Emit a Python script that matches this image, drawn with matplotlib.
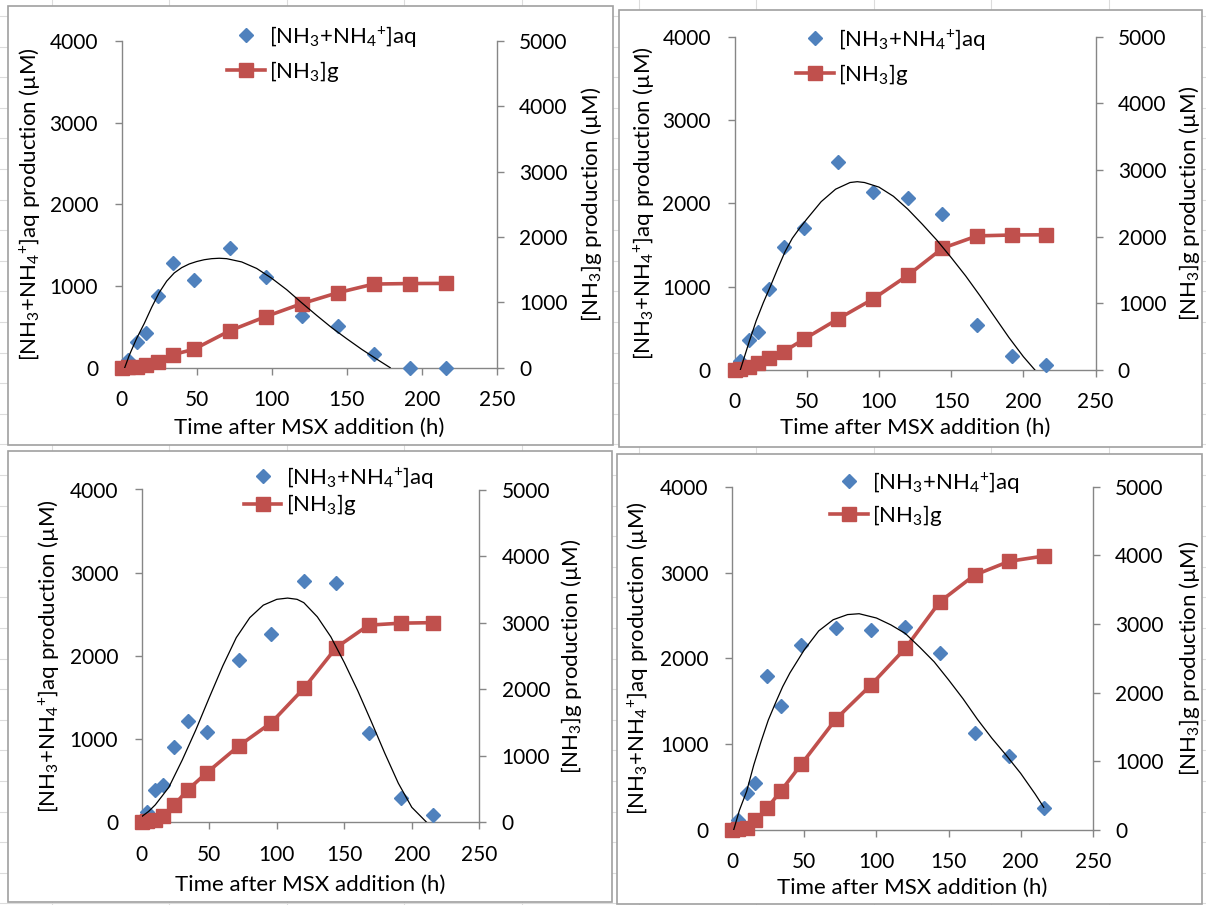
import matplotlib
matplotlib.use("Agg")
import matplotlib.pyplot as plt
from matplotlib.patches import Rectangle
from matplotlib.lines import Line2D

plt.rcParams['font.family'] = ['Lato', 'DejaVu Sans']
plt.rcParams['mathtext.fontset'] = 'custom'
plt.rcParams['mathtext.rm'] = 'Lato'
plt.rcParams['mathtext.it'] = 'Lato:italic'
plt.rcParams['mathtext.bf'] = 'Lato:bold'

# ---- sampling times (h) ----
t_aq = [4, 10, 16, 24, 34, 48, 72, 96, 120, 144, 168, 192, 216]
t_g = [0, 4, 10, 16, 24, 34, 48, 72, 96, 120, 144, 168, 192, 216]

# ---- run 1 ----
aq1 = [90, 310, 420, 875, 1280, 1075, 1465, 1105, 630, 515, 170, 0, 0]
g1 = [0, 5, 15, 45, 85, 200, 280, 565, 782, 980, 1147, 1280, 1288, 1290]
fit_t1 = [2, 5, 10, 15, 20, 25, 30, 35, 40, 45, 50, 55, 60, 65, 70, 80, 90,
          100, 110, 120, 130, 140, 150, 160, 170, 179]
fit1 = [0, 150, 360, 540, 740, 920, 1060, 1160, 1225, 1270, 1300, 1322, 1335,
        1340, 1335, 1295, 1215, 1095, 955, 795, 640, 490, 355, 225, 105, 0]

# ---- run 2 ----
aq2 = [105, 360, 452, 967, 1472, 1707, 2492, 2140, 2070, 1872, 538, 174, 66]
g2 = [0, 15, 50, 112, 182, 274, 461, 770, 1067, 1420, 1827, 2012, 2025, 2028]
fit_t2 = [4, 10, 15, 20, 25, 30, 35, 40, 45, 50, 60, 70, 80, 85, 90, 100, 110,
          120, 130, 140, 150, 160, 170, 180, 190, 200, 208]
fit2 = [0, 330, 590, 810, 1010, 1220, 1420, 1580, 1700, 1810, 2020, 2170, 2250,
        2260, 2250, 2195, 2085, 1930, 1750, 1560, 1350, 1130, 890, 640, 390,
        160, 0]

# ---- run 3 ----
aq3 = [118, 386, 450, 910, 1220, 1090, 1950, 2260, 2902, 2882, 1074, 294, 82]
g3 = [0, 15, 40, 100, 260, 488, 742, 1150, 1498, 2012, 2625, 2962, 2992, 3000]
fit_t3 = [0, 5, 10, 20, 30, 40, 50, 60, 70, 80, 90, 100, 108, 115, 120, 130,
          140, 150, 160, 170, 180, 190, 200, 211]
fit3 = [70, 130, 210, 420, 750, 1110, 1500, 1880, 2220, 2460, 2610, 2680, 2695,
        2680, 2640, 2470, 2230, 1920, 1580, 1210, 830, 470, 180, 0]

# ---- run 4 ----
aq4 = [116, 430, 550, 1800, 1442, 2155, 2358, 2328, 2368, 2066, 1125, 865, 255]
g4 = [0, 10, 35, 140, 314, 575, 960, 1618, 2108, 2645, 3325, 3712, 3913, 3990]
fit_t4 = [1, 5, 10, 15, 20, 25, 30, 35, 40, 50, 60, 70, 80, 88, 100, 110, 120,
          130, 140, 150, 160, 170, 180, 190, 200, 210, 216]
fit4 = [0, 230, 450, 760, 1030, 1280, 1480, 1670, 1830, 2100, 2320, 2450, 2510,
        2520, 2470, 2390, 2290, 2130, 1960, 1750, 1530, 1290, 1070, 870, 660,
        420, 265]

x_ticks = [0, 50, 100, 150, 200, 250]
left_ticks = [0, 1000, 2000, 3000, 4000]
right_ticks = [0, 1000, 2000, 3000, 4000, 5000]

label_aq = r'[NH$_3$+NH$_4$$^{+}$]aq'
label_g = r'[NH$_3$]g'
ylabel_left = r'[NH$_3$+NH$_4$$^{+}$]aq production (µM)'
ylabel_right = r'[NH$_3$]g production (µM)'
xlabel = 'Time after MSX addition (h)'

BLUE = '#4F81BD'
RED = '#C0504D'
GRAY = '#868686'
FS = 15        # tick labels
FS_LAB = 16    # axis titles and legend
FS_PX = FS_LAB * 100 / 72

W, H = 1206, 905
fig = plt.figure(figsize=(W / 100, H / 100), dpi=100)


def fx(x):
    return x / W


def fy(y):
    return 1 - y / H


# faint worksheet cell grid behind the chart boxes
for k in range(11):
    x = 52 + 117.4 * k
    fig.add_artist(Line2D([fx(x), fx(x)], [0, 1], color='#dcdcdc', lw=0.8,
                          zorder=0))
for k in range(30):
    y = 16 + 30.6 * k
    fig.add_artist(Line2D([0, 1], [fy(y), fy(y)], color='#dcdcdc', lw=0.8,
                          zorder=0))

# chart frames (left, top, right, bottom in pixels)
frames = [(8, 6, 612.7, 445), (619.3, 10, 1202, 447),
          (8, 450.7, 611.7, 902), (617.3, 454, 1202, 904)]
for (l, t, r, b) in frames:
    fig.add_artist(Rectangle((fx(l), fy(b)), fx(r) - fx(l), fy(t) - fy(b),
                             transform=fig.transFigure, facecolor='white',
                             edgecolor='#a0a0a0', lw=1.2, zorder=0.5))

panels = [
    dict(box=(121.7, 496.7, 41, 367.7), aq=aq1, g=g1, ft=fit_t1, fv=fit1,
         leg=(246, 37, 0.46), ylx=30, yrx=591, xly=428),
    dict(box=(734.5, 1095.6, 36.7, 370), aq=aq2, g=g2, ft=fit_t2, fv=fit2,
         leg=(815, 40, 0.45), ylx=644, yrx=1190, xly=428),
    dict(box=(141.8, 479.3, 489.5, 822.3), aq=aq3, g=g3, ft=fit_t3, fv=fit3,
         leg=(262.6, 478, 0.12), ylx=49, yrx=572, xly=885),
    dict(box=(732.2, 1092.8, 486.7, 830), aq=aq4, g=g4, ft=fit_t4, fv=fit4,
         leg=(849, 483, 0.38), ylx=638, yrx=1190, xly=888),
]

HANDLE_LEN = 1.7

for p in panels:
    l, r, t, b = p['box']
    ax = fig.add_axes([fx(l), fy(b), fx(r) - fx(l), fy(t) - fy(b)])
    ax.set_zorder(2)
    ax.patch.set_visible(False)
    ax2 = ax.twinx()

    ax.set_xlim(0, 250)
    ax.set_ylim(0, 4000)
    ax2.set_ylim(0, 5000)
    ax.set_xticks(x_ticks)
    ax.set_yticks(left_ticks)
    ax2.set_yticks(right_ticks)

    for s in ['top', 'right']:
        ax.spines[s].set_visible(False)
    for s in ['top', 'left', 'bottom']:
        ax2.spines[s].set_visible(False)
    for s in ['left', 'bottom']:
        ax.spines[s].set_color(GRAY)
        ax.spines[s].set_linewidth(1.0)
    ax2.spines['right'].set_color(GRAY)
    ax2.spines['right'].set_linewidth(1.0)

    ax.tick_params(axis='y', direction='out', length=5, width=1.0, color=GRAY,
                   pad=12, labelsize=FS)
    ax.tick_params(axis='x', direction='out', length=5, width=1.0, color=GRAY,
                   pad=11, labelsize=FS)
    ax2.tick_params(axis='y', direction='out', length=5, width=1.0,
                    color=GRAY, pad=11, labelsize=FS)

    # gaseous NH3 on the secondary axis
    ax2.plot(t_g, p['g'], color=RED, lw=2.6, marker='s', ms=9.5,
             mec=RED, mfc=RED, clip_on=False, zorder=3)
    # aqueous NH3 + NH4+ on the primary axis
    ax.plot(t_aq, p['aq'], ls='none', marker='D', ms=6.8, color=BLUE,
            mec=BLUE, clip_on=False, zorder=3)
    # trend curve of the aqueous series, layered above the squares
    ax2.plot(p['ft'], p['fv'], color='black', lw=0.9, zorder=4,
             transform=ax.transData)

    ax.set_ylabel(ylabel_left, fontsize=FS_LAB)
    ax2.set_ylabel(ylabel_right, fontsize=FS_LAB)
    ax.set_xlabel(xlabel, fontsize=FS_LAB)
    ax.yaxis.label.set_va('center')
    ax2.yaxis.label.set_va('center')
    ax.xaxis.label.set_va('center')
    cy = (t + b) / 2
    ax.yaxis.set_label_coords(fx(p['ylx']), fy(cy), transform=fig.transFigure)
    ax2.yaxis.set_label_coords(fx(p['yrx']), fy(cy), transform=fig.transFigure)
    ax.xaxis.set_label_coords(fx((l + r) / 2), fy(p['xly']),
                              transform=fig.transFigure)

    hc, hy, lsp = p['leg']
    x0 = hc - HANDLE_LEN * FS_PX / 2
    handles = [
        Line2D([], [], ls='none', marker='D', ms=6.8, color=BLUE, mec=BLUE),
        Line2D([], [], color=RED, lw=2.6, marker='s', ms=9.5, mec=RED),
    ]
    ax2.legend(handles, [label_aq, label_g], loc='upper left',
               bbox_to_anchor=(fx(x0), fy(hy - 13.2)),
               bbox_transform=fig.transFigure, frameon=False, borderpad=0,
               borderaxespad=0, handlelength=HANDLE_LEN, handletextpad=0.2,
               labelspacing=lsp, fontsize=FS_LAB, numpoints=1)

fig.savefig('out.png', dpi=100)
